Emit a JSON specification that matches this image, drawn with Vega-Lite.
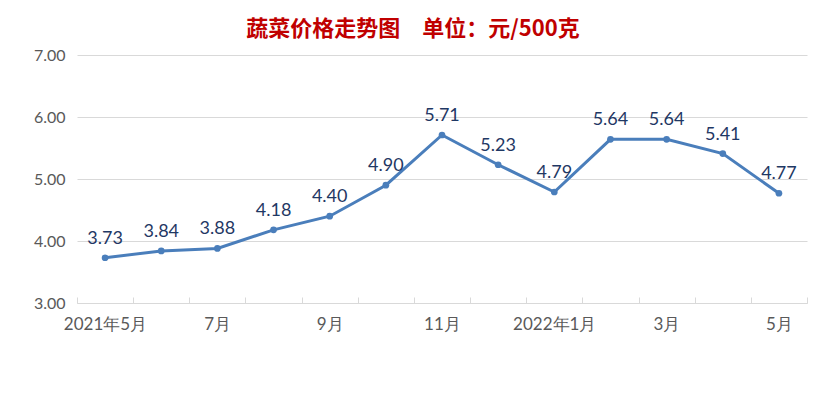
{
  "$schema": "https://vega.github.io/schema/vega-lite/v6.json",
  "width": 730,
  "height": 248,
  "autosize": {"type": "none"},
  "padding": {"left": 77, "top": 55, "right": 22, "bottom": 102},
  "background": "white",
  "title": {
    "text": "蔬菜价格走势图　单位：元/500克",
    "font": "Noto Sans CJK SC",
    "fontSize": 22,
    "fontWeight": "bold",
    "color": "#C00000",
    "anchor": "middle",
    "dx": -29,
    "offset": 6
  },
  "data": {
    "values": [
      {"i": 0, "month": "2021年5月", "price": 3.73},
      {"i": 1, "month": "6月", "price": 3.84},
      {"i": 2, "month": "7月", "price": 3.88},
      {"i": 3, "month": "8月", "price": 4.18},
      {"i": 4, "month": "9月", "price": 4.40},
      {"i": 5, "month": "10月", "price": 4.90},
      {"i": 6, "month": "11月", "price": 5.71},
      {"i": 7, "month": "12月", "price": 5.23},
      {"i": 8, "month": "2022年1月", "price": 4.79},
      {"i": 9, "month": "2月", "price": 5.64},
      {"i": 10, "month": "3月", "price": 5.64},
      {"i": 11, "month": "4月", "price": 5.41},
      {"i": 12, "month": "5月", "price": 4.77}
    ]
  },
  "encoding": {
    "x": {
      "field": "i",
      "type": "quantitative",
      "scale": {"domain": [-0.5, 12.5], "nice": false, "zero": false},
      "axis": {
        "title": null,
        "values": [-0.5, 0.5, 1.5, 2.5, 3.5, 4.5, 5.5, 6.5, 7.5, 8.5, 9.5, 10.5, 11.5, 12.5],
        "labelExpr": "(datum.value + 0.5) % 2 == 0 && datum.value < 12 ? ['2021年5月','6月','7月','8月','9月','10月','11月','12月','2022年1月','2月','3月','4月','5月'][datum.value + 0.5] : ''",
        "labelOffset": 28,
        "labelOverlap": false,
        "labelBound": false,
        "labelFlush": false,
        "labelFont": "Lato",
        "labelFontSize": 17,
        "labelColor": "#595959",
        "labelPadding": 19,
        "grid": false,
        "tickSize": -6,
        "tickColor": "#D9D9D9",
        "domainColor": "#D9D9D9"
      }
    },
    "y": {
      "field": "price",
      "type": "quantitative",
      "scale": {"domain": [3, 7], "nice": false, "zero": false},
      "axis": {
        "title": null,
        "values": [3, 4, 5, 6, 7],
        "format": ".2f",
        "domain": false,
        "ticks": false,
        "gridColor": "#D9D9D9",
        "labelFont": "Lato",
        "labelFontSize": 16,
        "labelColor": "#595959",
        "labelPadding": 12
      }
    }
  },
  "layer": [
    {"mark": {"type": "line", "color": "#4A7EBB", "strokeWidth": 3}},
    {"mark": {"type": "point", "filled": true, "color": "#4A7EBB", "size": 45, "opacity": 1}},
    {
      "mark": {"type": "text", "font": "Lato", "fontSize": 18, "color": "#1F3864", "baseline": "middle", "dy": -19},
      "encoding": {"text": {"field": "price", "type": "quantitative", "format": ".2f"}}
    }
  ],
  "config": {"view": {"stroke": null}}
}
